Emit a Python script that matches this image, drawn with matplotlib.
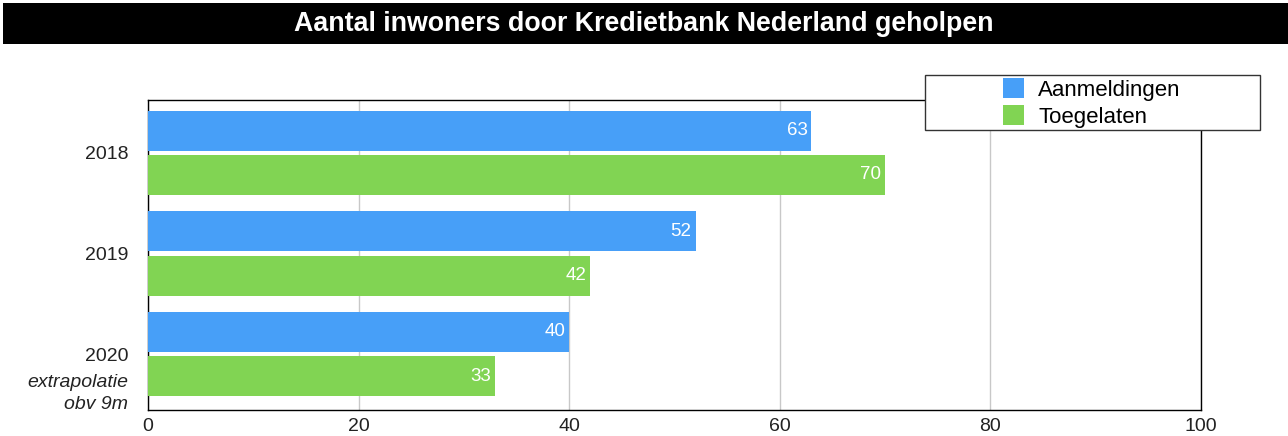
import matplotlib.pyplot as plt
from matplotlib.patches import Rectangle

plt.rcParams['font.family'] = ['Liberation Sans', 'DejaVu Sans']

years = ["2018", "2019", "2020"]
aanmeldingen = [63, 52, 40]
toegelaten = [70, 42, 33]
xticks = [0, 20, 40, 60, 80, 100]

BLUE = "#479ff8"
GREEN = "#81d453"

fig = plt.figure(figsize=(12.88, 4.36), dpi=100)
W, H = 1288, 436

# title bar
fig.patches.append(Rectangle((3 / W, 1 - 44 / H), 1, 41 / H, transform=fig.transFigure,
                             facecolor="black", edgecolor="none"))
fig.text(0.5, 1 - 24 / H, "Aantal inwoners door Kredietbank Nederland geholpen",
         color="white", fontsize=19.3, fontweight="bold", ha="center", va="center")

ax = fig.add_axes([148 / W, 1 - 410 / H, 1053 / W, 310 / H])

pos = list(range(len(years)))
off = 0.219
h = 0.398
b1 = ax.barh([p - off for p in pos], aanmeldingen, height=h, color=BLUE,
             label="Aanmeldingen", zorder=3)
b2 = ax.barh([p + off for p in pos], toegelaten, height=h, color=GREEN,
             label="Toegelaten", zorder=3)

for p, v in zip(pos, aanmeldingen):
    ax.annotate(str(v), xy=(v, p - off), xytext=(-4, 0), textcoords="offset pixels",
                ha="right", va="center", color="white", fontsize=13.5, zorder=4)
for p, v in zip(pos, toegelaten):
    ax.annotate(str(v), xy=(v, p + off), xytext=(-4, 0), textcoords="offset pixels",
                ha="right", va="center", color="white", fontsize=13.5, zorder=4)

ax.set_xlim(0, 100)
ax.set_ylim(2.557, -0.527)
ax.set_xticks(xticks)
ax.set_xticklabels([str(t) for t in xticks])
ax.set_yticks(pos)
ax.set_yticklabels(years)
ax.tick_params(axis="both", length=0, labelsize=14, colors="#222222")
ax.tick_params(axis="y", pad=14.4)
ax.tick_params(axis="x", pad=6)
ax.xaxis.grid(True, color="#c8c8c8", linewidth=1, zorder=0)
ax.set_axisbelow(True)
for s in ax.spines.values():
    s.set_color("black")
    s.set_linewidth(1)

ax.annotate("extrapolatie", xy=(0, 2), xycoords=("axes fraction", "data"),
            xytext=(-20, -28), textcoords="offset pixels", ha="right", va="center",
            fontsize=14, style="italic", color="#222222")
ax.annotate("obv 9m", xy=(0, 2), xycoords=("axes fraction", "data"),
            xytext=(-20, -50), textcoords="offset pixels", ha="right", va="center",
            fontsize=14, style="italic", color="#222222")

# legend box
ax.add_patch(Rectangle((925 / W, 1 - 130 / H), 335 / W, 55 / H, transform=fig.transFigure,
                       facecolor="white", edgecolor="#333333", linewidth=1,
                       clip_on=False, zorder=4))
leg = ax.legend(handles=[b1, b2], loc="upper left",
                bbox_to_anchor=(1003 / W, 1 - 78 / H), bbox_transform=fig.transFigure,
                frameon=False, fontsize=16, borderpad=0, borderaxespad=0,
                handlelength=0.95, handleheight=1.0, handletextpad=0.63,
                labelspacing=0.2)
leg.set_zorder(5)

fig.savefig("out.png", dpi=100)
